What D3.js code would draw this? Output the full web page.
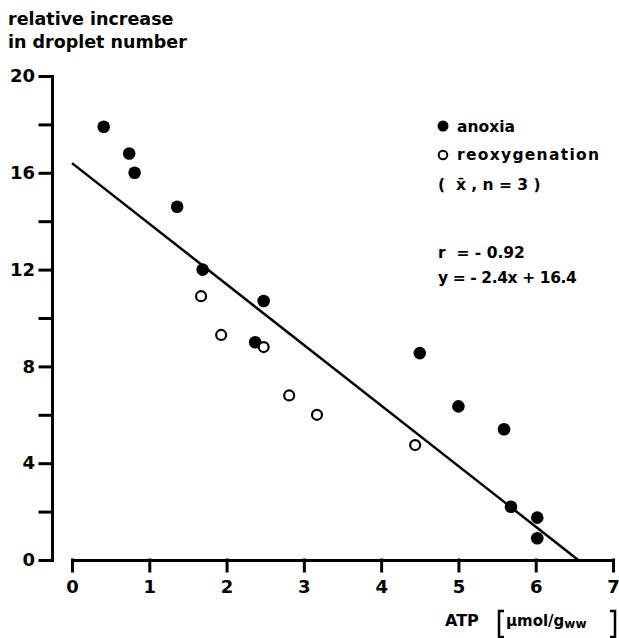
<!DOCTYPE html>
<html>
<head>
<meta charset="utf-8">
<script src="https://cdn.jsdelivr.net/npm/d3@7"></script>
<style>
  body { margin: 0; background: #fff; }
  svg text { font-family: "DejaVu Sans", "Liberation Sans", sans-serif; font-weight: bold; fill: #000; }
</style>
</head>
<body>
<script>
// anoxia (filled dots)
var anoxiaATP = [0.41, 0.74, 0.81, 1.36, 1.69, 2.48, 2.37, 4.50, 5.00, 5.59, 5.68, 6.02, 6.02];
var anoxiaInc = [17.9, 16.8, 16.0, 14.6, 12.0, 10.7, 9.0, 8.55, 6.35, 5.4, 2.2, 1.75, 0.9];

// reoxygenation (open dots)
var reoxATP = [1.67, 1.93, 2.48, 2.81, 3.17, 4.44];
var reoxInc = [10.9, 9.3, 8.8, 6.8, 6.0, 4.75];

// regression line end points as drawn
var fitATP = [0, 6.55];
var fitInc = [16.4, 0];

var xTicks = [0, 1, 2, 3, 4, 5, 6, 7];
var yTicks = [0, 2, 4, 6, 8, 10, 12, 14, 16, 18, 20];

var width = 619, height = 638;

var svg = d3.select("body").append("svg")
    .attr("width", width)
    .attr("height", height);

var x = d3.scaleLinear().domain([0, 7]).range([72, 613]);
var y = d3.scaleLinear().domain([0, 20]).range([560, 76]);

// y axis (sits left of the x axis origin)
svg.append("g")
    .attr("transform", "translate(52,0)")
    .call(d3.axisLeft(y)
      .tickValues(yTicks)
      .tickSize(12)
      .tickSizeOuter(0)
      .tickPadding(5)
      .tickFormat(function(d) { return d % 4 == 0 ? d : ""; }));

// x axis
svg.append("g")
    .attr("transform", "translate(0,560)")
    .call(d3.axisBottom(x)
      .tickValues(xTicks)
      .tickSize(11)
      .tickSizeOuter(0)
      .tickPadding(9)
      .tickFormat(d3.format("d")));

svg.selectAll(".domain, .tick line")
    .attr("stroke", "#000")
    .attr("stroke-width", 3)
    .attr("stroke-linecap", "square");

svg.selectAll(".tick text")
    .style("font-size", "18px")
    .style("font-family", "DejaVu Sans, Liberation Sans, sans-serif")
    .style("font-weight", "bold");

// regression line
var fit = fitATP.map(function(d, i) { return [d, fitInc[i]]; });
svg.append("path")
    .datum(fit)
    .attr("d", d3.line().x(function(d) { return x(d[0]); }).y(function(d) { return y(d[1]); }))
    .attr("stroke", "#000")
    .attr("stroke-width", 2.5)
    .attr("fill", "none");

// points
svg.append("g").selectAll("circle")
    .data(anoxiaATP)
    .enter().append("circle")
    .attr("cx", function(d) { return x(d); })
    .attr("cy", function(d, i) { return y(anoxiaInc[i]); })
    .attr("r", 6.3)
    .attr("fill", "#000");

svg.append("g").selectAll("circle")
    .data(reoxATP)
    .enter().append("circle")
    .attr("cx", function(d) { return x(d); })
    .attr("cy", function(d, i) { return y(reoxInc[i]); })
    .attr("r", 5)
    .attr("fill", "#fff")
    .attr("stroke", "#000")
    .attr("stroke-width", 2.2);

// y axis title
svg.append("text").attr("x", 8).attr("y", 25).style("font-size", "17.5px").text("relative  increase");
svg.append("text").attr("x", 8).attr("y", 48).style("font-size", "17.5px").text("in droplet number");

// legend
svg.append("circle").attr("cx", 443).attr("cy", 126).attr("r", 5.5).attr("fill", "#000");
svg.append("circle").attr("cx", 443).attr("cy", 155).attr("r", 4.3)
    .attr("fill", "#fff").attr("stroke", "#000").attr("stroke-width", 2);
svg.append("text").attr("x", 457).attr("y", 132).style("font-size", "15.5px").text("anoxia");
svg.append("text").attr("x", 457).attr("y", 160).style("font-size", "15.5px")
    .style("letter-spacing", "1.3px").text("reoxygenation");
svg.append("text").attr("x", 438).attr("y", 190).style("font-size", "15.5px")
    .attr("xml:space", "preserve").text("(  x\u0304 , n = 3 )");
svg.append("text").attr("x", 438).attr("y", 258).style("font-size", "15.5px")
    .attr("xml:space", "preserve").text("r  = - 0.92");
svg.append("text").attr("x", 438).attr("y", 283).style("font-size", "15.5px")
    .style("letter-spacing", "-0.4px")
    .attr("xml:space", "preserve").text("y = - 2.4x + 16.4");

// x axis title
svg.append("text").attr("x", 445).attr("y", 626).style("font-size", "16px").text("ATP");
var unit = svg.append("text").attr("x", 506).attr("y", 626).style("font-size", "15px");
unit.append("tspan").text("\u00b5mol/g");
unit.append("tspan").attr("dy", 2).style("font-size", "12px").text("ww");

svg.append("path")
    .attr("d", "M504,611 H499 V637 H504 M610,611 H615 V637 H610")
    .attr("stroke", "#000").attr("stroke-width", 2.5).attr("fill", "none");
</script>
</body>
</html>
